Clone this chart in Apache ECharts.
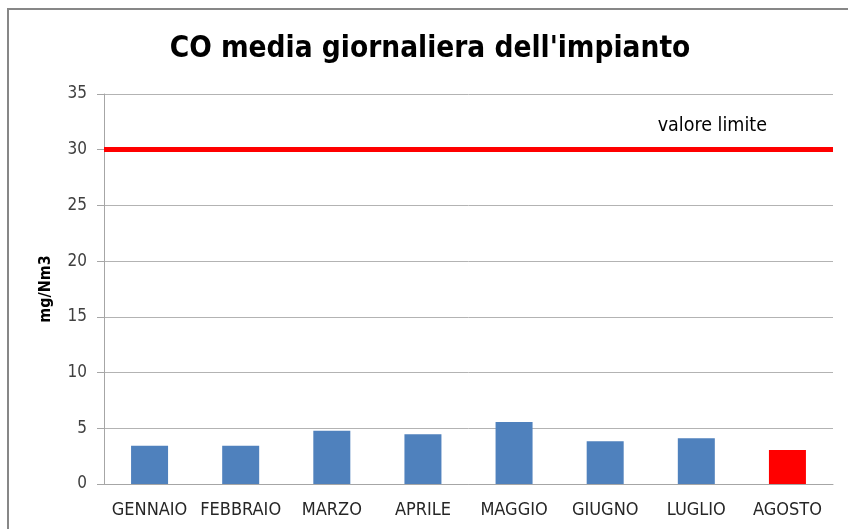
<!DOCTYPE html>
<html><head><meta charset="utf-8">
<script src="https://cdn.jsdelivr.net/npm/echarts@6/dist/echarts.min.js"></script>
<style>html,body{margin:0;padding:0;background:#fff}#c{width:848px;height:529px}</style>
</head><body><div id="c"></div>
<script>
const categories = ['GENNAIO','FEBBRAIO','MARZO','APRILE','MAGGIO','GIUGNO','LUGLIO','AGOSTO'];
const values = [3.44, 3.44, 4.79, 4.46, 5.57, 3.83, 4.1, 3.05];
const barColors = ['#4f81bd','#4f81bd','#4f81bd','#4f81bd','#4f81bd','#4f81bd','#4f81bd','#ff0000'];
const limitValue = 30;
const limitLabel = 'valore limite';
const yTicks = {min: 0, max: 35, interval: 5};

const cond = 'DejaVu Sans Condensed, Liberation Sans';
const chart = echarts.init(document.getElementById('c'));
chart.setOption({
  backgroundColor: '#fff',
  animation: false,
  title: {
    text: "CO media giornaliera dell'impianto",
    left: 425, top: 29, textAlign: 'center',
    textStyle: {fontFamily: cond, fontWeight: 'bold', fontSize: 29.5, color: '#000'}
  },
  graphic: [{
    type: 'rect', shape: {x: 8, y: 9, width: 900, height: 600},
    style: {fill: 'none', stroke: '#878787', lineWidth: 2}, silent: true, z: -1
  }],
  grid: {left: 104, right: 15, top: 94, bottom: 45},
  xAxis: {
    type: 'category', data: categories,
    axisLine: {lineStyle: {color: '#a6a6a6'}},
    axisTick: {show: false},
    axisLabel: {fontFamily: cond, fontSize: 18, color: '#262626', margin: 17, interval: 0}
  },
  yAxis: {
    type: 'value', min: yTicks.min, max: yTicks.max, interval: yTicks.interval,
    name: 'mg/Nm3', nameLocation: 'middle', nameGap: 50, nameRotate: 90,
    nameTextStyle: {fontFamily: cond, fontWeight: 'bold', fontSize: 16, color: '#000'},
    axisLine: {show: true, lineStyle: {color: '#a6a6a6'}},
    axisTick: {show: true, length: 7, lineStyle: {color: '#a6a6a6'}},
    axisLabel: {fontFamily: cond, fontSize: 17, color: '#404040', margin: 17},
    splitLine: {lineStyle: {color: '#b3b3b3'}}
  },
  series: [{
    type: 'bar', barWidth: 37,
    data: values.map((v, i) => ({value: v, itemStyle: {color: barColors[i]}})),
    markLine: {
      silent: true, symbol: 'none',
      lineStyle: {color: '#ff0000', width: 5, type: 'solid'},
      data: [{yAxis: limitValue}],
      label: {
        show: true, formatter: limitLabel, position: 'insideEndTop',
        distance: [66, 14],
        fontFamily: cond, fontSize: 19.5, color: '#000'
      }
    }
  }]
});
</script></body></html>
